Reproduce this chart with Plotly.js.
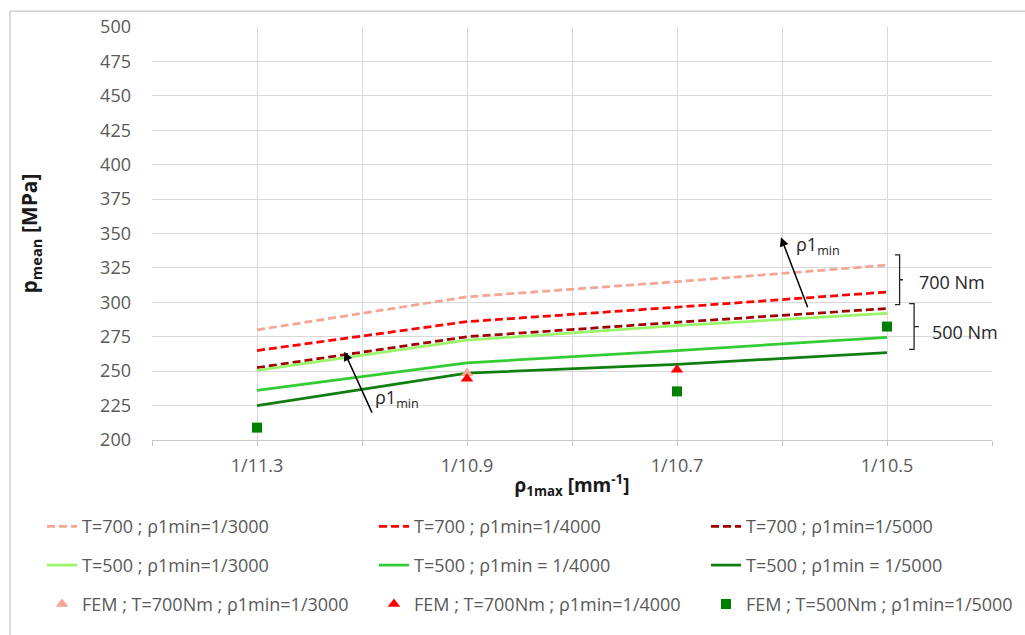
<!DOCTYPE html>
<html>
<head>
<meta charset="utf-8">
<script src="https://cdn.plot.ly/plotly-3.0.1.min.js"></script>
<style>html,body{margin:0;padding:0;background:#fff;}#chart{width:1025px;height:635px;}</style>
</head>
<body>
<div id="chart"></div>
<script>
// ---- data ----
const categories = ["1/11.3", "1/10.9", "1/10.7", "1/10.5"];
const T700_r3000 = [280, 304, 315, 327];
const T700_r4000 = [265, 286, 296.5, 307.5];
const T700_r5000 = [252.5, 275, 285.5, 295.5];
const T500_r3000 = [250.5, 272.5, 283, 292];
const T500_r4000 = [236, 256, 265, 274.5];
const T500_r5000 = [225, 248.5, 255, 263.5];
const fem700_3000_cat = ["1/10.9"];
const fem700_3000_val = [248.5];
const fem700_4000_cat = ["1/10.9", "1/10.7"];
const fem700_4000_val = [244.5, 251];
const fem500_5000_cat = ["1/11.3", "1/10.7", "1/10.5"];
const fem500_5000_val = [209, 235.3, 282.4];

const pos = c => categories.indexOf(c) + 1;
const xs = categories.map(pos);

const FONT = "Open Sans, Liberation Sans, sans-serif";
const GRAY = "#595959";

function lineTrace(name, y, color, dash, legend, lw) {
  const t = {x: xs, y: y, name: name, type: "scatter", mode: "lines",
    line: {color: color, width: 2.75, dash: dash}, legend: legend};
  if (lw) t.legendwidth = lw;
  return t;
}
function markTrace(name, cats, vals, color, symbol, size, lw) {
  const t = {x: cats.map(pos), y: vals, name: name, type: "scatter", mode: "markers",
    marker: {color: color, symbol: symbol, size: size}, legend: "legend3"};
  if (lw) t.legendwidth = lw;
  return t;
}

const traces = [
  lineTrace("T=700 ; ρ1min=1/3000", T700_r3000, "#F4A593", "8px,4px", "legend"),
  lineTrace("T=700 ; ρ1min=1/4000", T700_r4000, "#FF0000", "8px,4px", "legend"),
  lineTrace("T=700 ; ρ1min=1/5000", T700_r5000, "#A10000", "8px,4px", "legend", 262),
  lineTrace("T=500 ; ρ1min=1/3000", T500_r3000, "#99F56A", "solid", "legend2"),
  lineTrace("T=500 ; ρ1min = 1/4000", T500_r4000, "#33CC33", "solid", "legend2"),
  lineTrace("T=500 ; ρ1min = 1/5000", T500_r5000, "#107F10", "solid", "legend2", 262),
  markTrace("FEM ; T=700Nm ; ρ1min=1/3000", fem700_3000_cat, fem700_3000_val, "#F4A593", "triangle-up", 11),
  markTrace("FEM ; T=700Nm ; ρ1min=1/4000", fem700_4000_cat, fem700_4000_val, "#FF0000", "triangle-up", 11),
  markTrace("FEM ; T=500Nm ; ρ1min=1/5000", fem500_5000_cat, fem500_5000_val, "#008000", "square", 10, 262)
];

// ---- layout ----
const M = {l: 152, r: 33, t: 27, b: 193};
const W = 1025, H = 635;
const pw = W - M.l - M.r, ph = H - M.t - M.b;
const px2paperX = px => (px - M.l) / pw;
const py2paperY = py => (H - M.b - py) / ph;

const legendCommon = {orientation: "h", xanchor: "left", yanchor: "middle",
  font: {family: FONT, size: 18, color: GRAY}, bgcolor: "rgba(0,0,0,0)",
  entrywidth: 287, entrywidthmode: "pixels", traceorder: "normal"};

const brace = (x0, x1, x2, yTop, yBot) => {
  const ym = (yTop + yBot) / 2;
  return {type: "path", xref: "x", yref: "y",
    path: `M ${x0},${yTop} L ${x1},${yTop} L ${x1},${yBot} L ${x0},${yBot} M ${x1},${ym} L ${x2},${ym}`,
    line: {color: "#262626", width: 1.3}};
};

const annFont = {family: FONT, size: 18, color: "#262626"};
const GRID = "#D9D9D9";

const layout = {
  width: W, height: H,
  margin: M,
  paper_bgcolor: "#fff", plot_bgcolor: "#fff",
  font: {family: FONT, color: GRAY},
  showlegend: true,
  xaxis: {
    range: [0.5, 4.5], tickmode: "array", tickvals: xs, ticktext: categories,
    showgrid: true, gridcolor: GRID, gridwidth: 1,
    minor: {tick0: 0.5, dtick: 0.5, showgrid: true, gridcolor: GRID, gridwidth: 1,
            ticks: "outside", ticklen: 5, tickcolor: "#C8C8C8"},
    showline: true, linecolor: "#C8C8C8", linewidth: 1,
    ticks: "outside", ticklen: 5, tickcolor: "#C8C8C8",
    tickfont: {family: FONT, size: 18, color: GRAY},
    ticklabelstandoff: 4,
    zeroline: false, fixedrange: true,
    title: {text: "<b>ρ<sub>1max</sub> [mm<sup>-1</sup>]</b>", font: {family: FONT, size: 19, color: "#1a1a1a"}, standoff: 3}
  },
  yaxis: {
    range: [200, 500], dtick: 25, tick0: 200,
    showgrid: true, gridcolor: GRID, gridwidth: 1,
    showline: false, ticks: "", zeroline: false, fixedrange: true,
    tickfont: {family: FONT, size: 18, color: GRAY},
    ticklabelstandoff: 20,
    title: {text: "<b>p<sub>mean</sub> [MPa]</b>", font: {family: FONT, size: 21, color: "#1a1a1a"}, standoff: 56}
  },
  legend: Object.assign({}, legendCommon, {x: px2paperX(42), y: py2paperY(529)}),
  legend2: Object.assign({}, legendCommon, {x: px2paperX(42), y: py2paperY(568)}),
  legend3: Object.assign({}, legendCommon, {x: px2paperX(42), y: py2paperY(607)}),
  shapes: [
    {type: "line", xref: "paper", yref: "paper", x0: px2paperX(10), x1: px2paperX(1030), y0: py2paperY(11), y1: py2paperY(11), line: {color: "#C8C8C8", width: 1.3}},
    {type: "line", xref: "paper", yref: "paper", x0: px2paperX(10), x1: px2paperX(10), y0: py2paperY(11), y1: py2paperY(640), line: {color: "#C8C8C8", width: 1.3}},
    brace(4.038, 4.06, 4.076, 334.5, 298.3),
    brace(4.105, 4.129, 4.152, 299, 265.8)
  ],
  annotations: [
    {x: 1.4157, y: 264.1, ax: 1.551, ay: 218.8, xref: "x", yref: "y", axref: "x", ayref: "y",
     text: "", showarrow: true, arrowhead: 2, arrowsize: 1.2, arrowwidth: 1.5, arrowcolor: "#000"},
    {x: 3.495, y: 347.3, ax: 3.625, ay: 295.4, xref: "x", yref: "y", axref: "x", ayref: "y",
     text: "", showarrow: true, arrowhead: 2, arrowsize: 1.2, arrowwidth: 1.5, arrowcolor: "#000"},
    {x: 1.667, y: 230.4, xref: "x", yref: "y", text: "ρ1<sub>min</sub>", showarrow: false, font: annFont},
    {x: 3.671, y: 341, xref: "x", yref: "y", text: "ρ1<sub>min</sub>", showarrow: false, font: annFont},
    {x: 4.143, y: 314.9, xref: "x", yref: "y", text: "700 Nm", showarrow: false, xanchor: "left", font: annFont},
    {x: 4.205, y: 278.8, xref: "x", yref: "y", text: "500 Nm", showarrow: false, xanchor: "left", font: annFont}
  ]
};

Plotly.newPlot("chart", traces, layout, {displayModeBar: false, staticPlot: true});
</script>
</body>
</html>
